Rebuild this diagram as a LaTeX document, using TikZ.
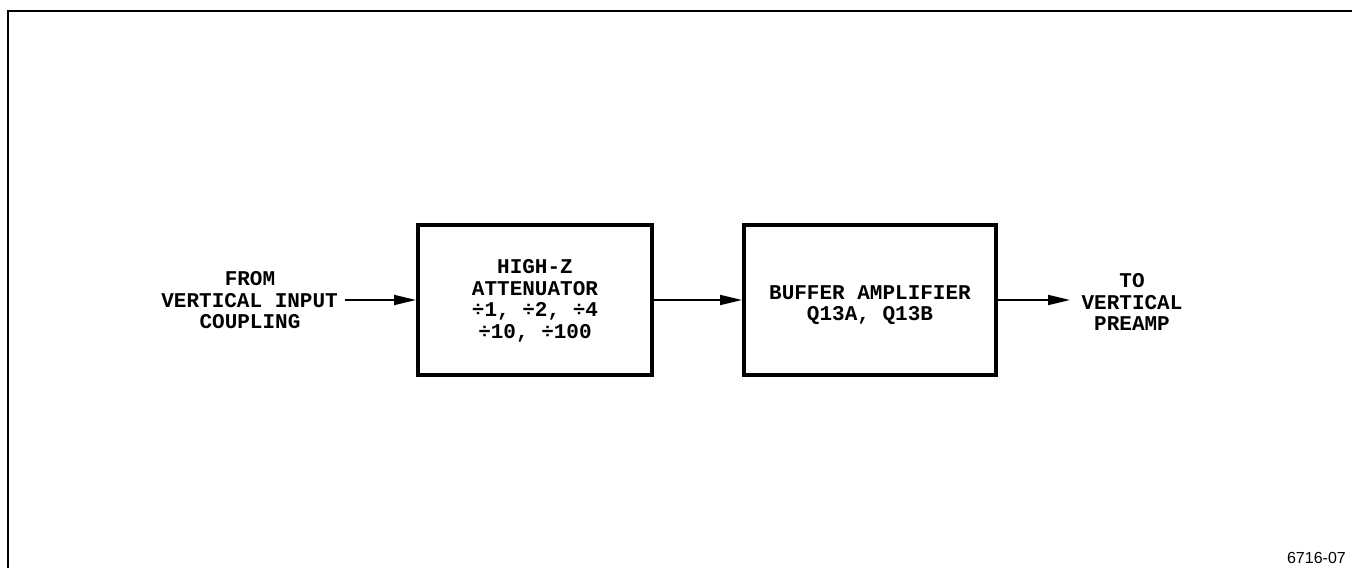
\documentclass[tikz,border=0pt]{standalone}
\usepackage{fontspec}
\setmainfont{Liberation Sans}
\newfontfamily\plotfont{Liberation Mono}
\usetikzlibrary{arrows.meta}
\begin{document}
\begin{tikzpicture}[x=1pt,y=-1pt,
  blockbox/.style={draw,line width=4pt,minimum height=150pt,inner sep=0pt},
  lbl/.style={font=\plotfont\fontsize{21}{21.5}\selectfont\bfseries,align=center,inner sep=0pt},
  conn/.style={line width=1.8pt,-{Triangle[length=22pt,width=10pt]}},
  frame/.style={line width=2.5pt}]
\useasboundingbox (0,0) rectangle (1352,568);
\coordinate (ftop) at (1352,11);
\coordinate (fcorner) at (8,11);
\coordinate (fbot) at (8,568);
\draw[frame] (ftop) -- (fcorner) -- (fbot);
\node[blockbox,minimum width=234pt] (att) at (535,300) {};
\node[blockbox,minimum width=252pt] (buf) at (870,300) {};
\node[lbl] (attt) at (535,301) {HIGH-Z\\ATTENUATOR\\÷1, ÷2, ÷4\\÷10, ÷100};
\node[lbl] (buft) at (870,305) {BUFFER AMPLIFIER\\Q13A, Q13B};
\node[lbl] (from1) at (250,279) {FROM};
\node[lbl,anchor=east] (from) at (338,301) {VERTICAL INPUT};
\node[lbl] (from2) at (250,322) {COUPLING};
\node[lbl] (to1) at (1132,281) {TO};
\node[lbl] (to) at (1132,303) {VERTICAL};
\node[lbl] (to2) at (1132,324) {PREAMP};
\coordinate (fromend) at (345,300);
\coordinate (toend) at (1070,300);
\draw[conn] (fromend) -- (att.west);
\draw[conn] (att.east) -- (buf.west);
\draw[conn] (buf.east) -- (toend);
\node[font=\fontsize{16}{18}\selectfont,anchor=south east,inner sep=0pt] (num) at (1346,564) {6716-07};
\end{tikzpicture}
\end{document}
